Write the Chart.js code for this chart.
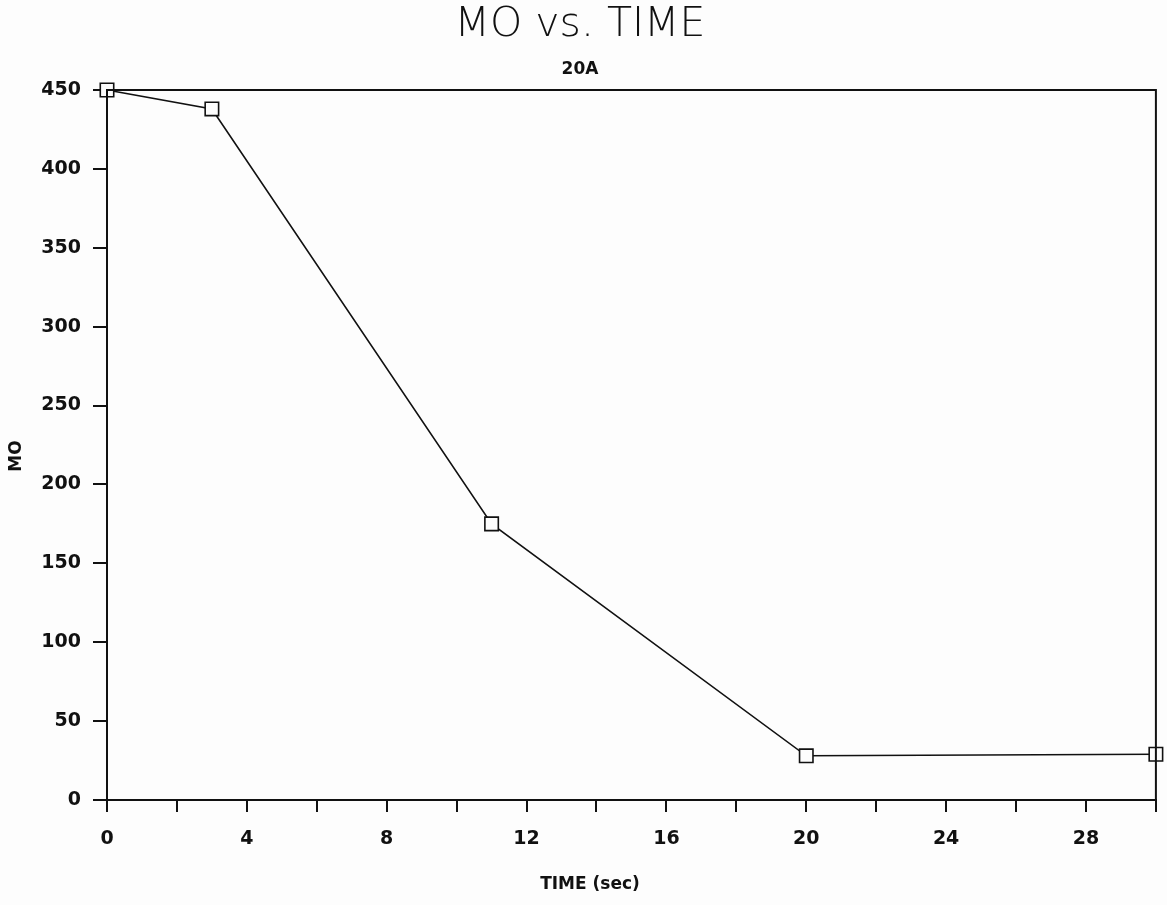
<!DOCTYPE html>
<html>
<head>
<meta charset="utf-8">
<script src="https://cdn.jsdelivr.net/npm/chart.js@4.4.1/dist/chart.umd.min.js"></script>
<style>
  html, body { margin: 0; padding: 0; background: #fdfdfd; }
  #wrap { width: 1167px; height: 905px; }
</style>
</head>
<body>
<div id="wrap"><canvas id="chart"></canvas></div>
<script>
// values
const timeSec = [0, 3, 11, 20, 30];
const moValues = [450, 438, 175, 28, 29];
const xTicks = [0, 4, 8, 12, 16, 20, 24, 28];

const FONT = '"DejaVu Sans", sans-serif';
const INK = '#111';

// box round the plot, plus the two axis titles (they sit off-centre in the original)
const framePlugin = {
  id: 'frame',
  afterDraw(chart) {
    const { ctx, chartArea: a } = chart;
    ctx.save();
    ctx.strokeStyle = INK;
    ctx.lineWidth = 2;
    ctx.strokeRect(a.left, a.top, a.right - a.left, a.bottom - a.top);
    ctx.fillStyle = INK;
    ctx.font = 'bold 17px ' + FONT;
    ctx.textAlign = 'center';
    ctx.textBaseline = 'middle';
    ctx.fillText('TIME (sec)', 590, 885);
    ctx.translate(17, 456);
    ctx.rotate(-Math.PI / 2);
    ctx.fillText('MO', 0, 0);
    ctx.restore();
  }
};

new Chart(document.getElementById('chart'), {
  type: 'line',
  data: {
    datasets: [{
      label: 'MO',
      data: timeSec.map((t, i) => ({ x: t, y: moValues[i] })),
      borderColor: INK,
      borderWidth: 1.6,
      pointStyle: 'rect',
      pointRadius: 9.5,
      pointBorderWidth: 1.6,
      pointBorderColor: INK,
      pointBackgroundColor: '#fdfdfd',
      tension: 0,
      clip: false,
    }],
  },
  options: {
    responsive: true,
    maintainAspectRatio: false,
    animation: false,
    layout: { padding: { left: 0, right: 7, top: 0, bottom: 0 } },
    plugins: {
      legend: { display: false },
      tooltip: { enabled: false },
      title: {
        display: true,
        text: 'MO vs. TIME',
        color: INK,
        font: { family: FONT, size: 41, weight: 200, lineHeight: 1 },
        padding: { top: 5, bottom: 15 },
      },
      subtitle: {
        display: true,
        text: '20A',
        color: INK,
        font: { family: FONT, size: 17, weight: 'bold', lineHeight: 1 },
        padding: { top: 0, bottom: 12 },
      },
    },
    scales: {
      x: {
        type: 'linear',
        min: 0,
        max: 30,
        afterFit: s => { s.height = 105; s.paddingLeft = 0; s.paddingRight = 0; },
        border: { display: true, color: INK, width: 2 },
        grid: { drawOnChartArea: false, drawTicks: true, tickLength: 12, color: INK, lineWidth: 2 },
        ticks: {
          stepSize: 2,
          padding: 16,
          color: INK,
          font: { family: FONT, size: 19, weight: 'bold' },
          maxRotation: 0,
          callback: v => (xTicks.includes(v) ? String(v) : ''),
        },
      },
      y: {
        min: 0,
        max: 450,
        afterFit: s => { s.width = 107; },
        border: { display: true, color: INK, width: 2 },
        grid: { drawOnChartArea: false, drawTicks: true, tickLength: 14, color: INK, lineWidth: 2 },
        ticks: {
          stepSize: 50,
          padding: 12,
          color: INK,
          font: { family: FONT, size: 19, weight: 'bold' },
        },
      },
    },
  },
  plugins: [framePlugin],
});
</script>
</body>
</html>
